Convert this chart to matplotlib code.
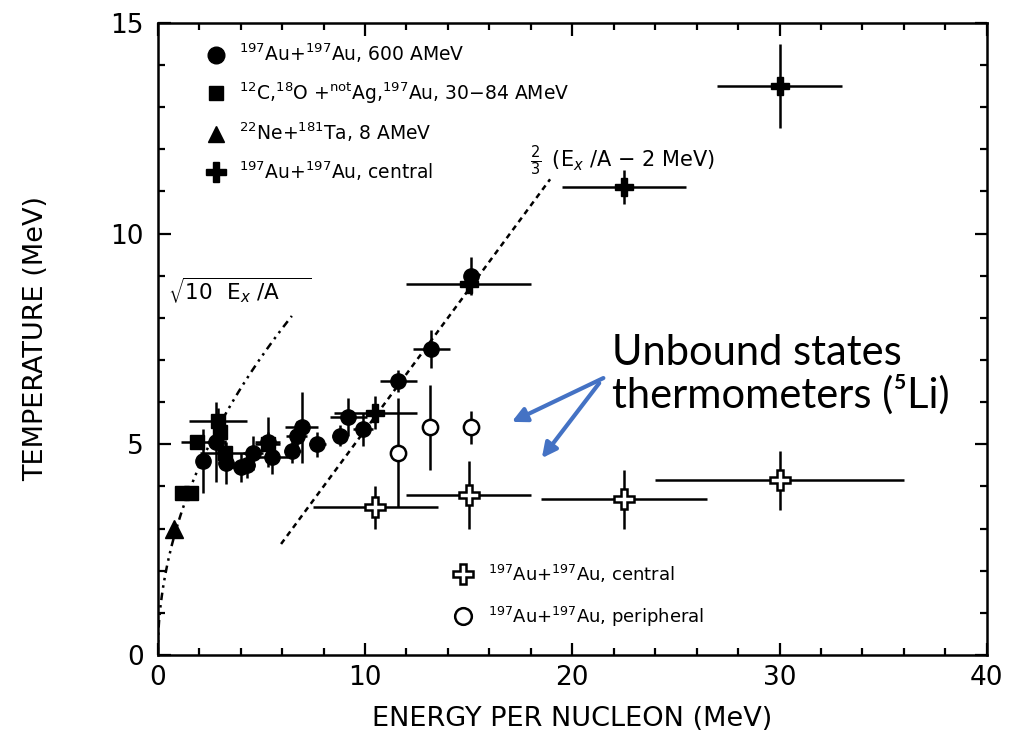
import matplotlib.pyplot as plt
import numpy as np
from matplotlib.lines import Line2D
from matplotlib.ticker import MultipleLocator

# 197Au+197Au, 600 AMeV (filled circles)
au600_x = [2.2, 2.8, 3.3, 4.0, 4.3, 4.6, 5.3, 5.5, 6.5, 6.7, 6.95, 7.7, 8.8, 9.2, 9.9, 11.6, 13.2, 15.1]
au600_y = [4.6, 5.05, 4.55, 4.45, 4.5, 4.8, 5.05, 4.7, 4.85, 5.2, 5.4, 5.0, 5.2, 5.65, 5.35, 6.5, 7.25, 9.0]
au600_xerr = [0.0, 0.4, 0.4, 0.5, 0.4, 0.5, 0.6, 0.8, 0.4, 0.5, 0.8, 0.4, 0.4, 0.9, 0.5, 0.9, 0.9, 0.0]
au600_yerr = [0.75, 0.95, 0.5, 0.35, 0.3, 0.4, 0.6, 0.4, 0.3, 0.35, 0.85, 0.3, 0.25, 0.45, 0.4, 0.25, 0.45, 0.45]

# 12C,18O + natAg,197Au, 30-84 AMeV (filled squares)
sq_x = [1.15, 1.6, 1.9, 2.9, 3.0, 3.25, 5.3]
sq_y = [3.85, 3.85, 5.05, 5.55, 5.3, 4.8, 5.0]
sq_xerr = [0.1, 0.1, 0.8, 1.4, 0.3, 1.2, 0.6]
sq_yerr = [0.1, 0.1, 0.1, 0.3, 0.3, 0.3, 0.3]

# 22Ne+181Ta, 8 AMeV (triangle)
ne_x = [0.8]
ne_y = [3.0]

# 197Au+197Au central (filled crosses)
cen_x = [10.5, 15.0, 22.5, 30.0]
cen_y = [5.75, 8.8, 11.1, 13.5]
cen_xerr = [2.0, 3.0, 3.0, 3.0]
cen_yerr = [0.4, 0.2, 0.4, 1.0]

# unbound states, 197Au+197Au central (open crosses)
ucen_x = [10.5, 15.0, 22.5, 30.0]
ucen_y = [3.5, 3.8, 3.7, 4.15]
ucen_xerr = [3.0, 3.0, 4.0, 6.0]
ucen_yerr = [0.5, 0.8, 0.7, 0.7]

# unbound states, 197Au+197Au peripheral (open circles)
uper_x = [11.6, 13.15, 15.1]
uper_y = [4.8, 5.4, 5.4]
uper_yerr = [1.3, 1.0, 0.4]

fig = plt.figure(figsize=(10.21, 7.42), dpi=100)
ax = fig.add_axes([0.1545, 0.1173, 0.812, 0.852])

eb = dict(color='black', ecolor='black', elinewidth=1.8, capsize=0, linestyle='none')

# theory curves
e1 = np.linspace(0, 6.47, 200)
ax.plot(e1, np.sqrt(10 * e1), color='black', lw=1.8, linestyle=(0, (3, 2, 1, 2, 1, 2)))
e2 = np.linspace(5.95, 18.93, 50)
ax.plot(e2, 2.0 / 3.0 * (e2 - 2), color='black', lw=1.8, linestyle=(0, (2.2, 1.8)))

ax.errorbar(au600_x, au600_y, xerr=au600_xerr, yerr=au600_yerr, fmt='o', ms=11, **eb)
ax.errorbar(sq_x, sq_y, xerr=sq_xerr, yerr=sq_yerr, fmt='s', ms=10, **eb)
ax.errorbar(ne_x, ne_y, fmt='^', ms=13, **eb)
ax.errorbar(cen_x, cen_y, xerr=cen_xerr, yerr=cen_yerr, fmt='P', ms=13, **eb)
ax.errorbar(ucen_x, ucen_y, xerr=ucen_xerr, yerr=ucen_yerr, fmt='P', ms=14,
            mfc='white', mec='black', mew=1.8, **eb)
ax.errorbar(uper_x, uper_y, yerr=uper_yerr, fmt='o', ms=11,
            mfc='white', mec='black', mew=1.8, **eb)

ax.set_xlim(0, 40)
ax.set_ylim(0, 15)
ax.xaxis.set_major_locator(MultipleLocator(10))
ax.xaxis.set_minor_locator(MultipleLocator(2))
ax.yaxis.set_major_locator(MultipleLocator(5))
ax.yaxis.set_minor_locator(MultipleLocator(1))
ax.tick_params(which='both', direction='in', top=True, right=True, width=1.6, labelsize=19)
ax.tick_params(which='major', length=9)
ax.tick_params(which='minor', length=5)
ax.tick_params(axis='y', pad=10)
ax.tick_params(axis='x', pad=7)
for s in ax.spines.values():
    s.set_linewidth(1.8)

ax.set_xlabel('ENERGY PER NUCLEON (MeV)', fontsize=19.5, labelpad=11)
ax.set_ylabel('TEMPERATURE (MeV)', fontsize=19.5, labelpad=44)

# curve labels
ax.text(0.5, 8.66, r'$\sqrt{10\ \ \mathrm{E}_x\ /\mathrm{A}\quad\ }$', fontsize=15.5,
        va='center', ha='left')
ax.text(17.97, 11.72, r'$\frac{2}{3}\,$ (E$_x$ /A ' + '\u2212 2 MeV)', fontsize=15,
        va='center', ha='left')

# legends
h1 = [Line2D([], [], marker='o', color='black', ls='none', ms=12),
      Line2D([], [], marker='s', color='black', ls='none', ms=10.5),
      Line2D([], [], marker='^', color='black', ls='none', ms=12),
      Line2D([], [], marker='P', color='black', ls='none', ms=14)]
l1 = [r'$^{197}$Au+$^{197}$Au, 600 AMeV',
      r'$^{12}$C,$^{18}$O +$^{\rm not}$Ag,$^{197}$Au, 30' + '\u221284 AMeV',
      r'$^{22}$Ne+$^{181}$Ta, 8 AMeV',
      r'$^{197}$Au+$^{197}$Au, central']
leg1 = ax.legend(h1, l1, loc='upper left', bbox_to_anchor=(0.059, 0.97), frameon=False,
                 fontsize=13.5, handlelength=1.0, handletextpad=0.7, labelspacing=0.8,
                 borderpad=0, borderaxespad=0)
ax.add_artist(leg1)

h2 = [Line2D([], [], marker='P', mfc='white', mec='black', mew=1.8, ls='none', ms=14),
      Line2D([], [], marker='o', mfc='white', mec='black', mew=1.8, ls='none', ms=12)]
l2 = [r'$^{197}$Au+$^{197}$Au, central', r'$^{197}$Au+$^{197}$Au, peripheral']
ax.legend(h2, l2, loc='upper left', bbox_to_anchor=(0.357, 0.146), frameon=False,
          fontsize=13, handlelength=1.0, handletextpad=0.9, labelspacing=1.1,
          borderpad=0, borderaxespad=0)

# annotation
ax.text(21.9, 6.66, 'Unbound states\nthermometers (\u2075Li)', fontsize=30,
        family=['Lato', 'DejaVu Sans'], va='center', ha='left', linespacing=1.05)
for hx, hy, tx, ty in [(17.08, 5.53, 21.5, 6.57), (18.53, 4.67, 21.3, 6.45)]:
    ax.annotate('', xy=(hx, hy), xytext=(tx, ty),
                arrowprops=dict(arrowstyle='-|>', color='#4472C4', lw=3, mutation_scale=22,
                                shrinkA=0, shrinkB=0))

fig.savefig('out.png', dpi=100)
